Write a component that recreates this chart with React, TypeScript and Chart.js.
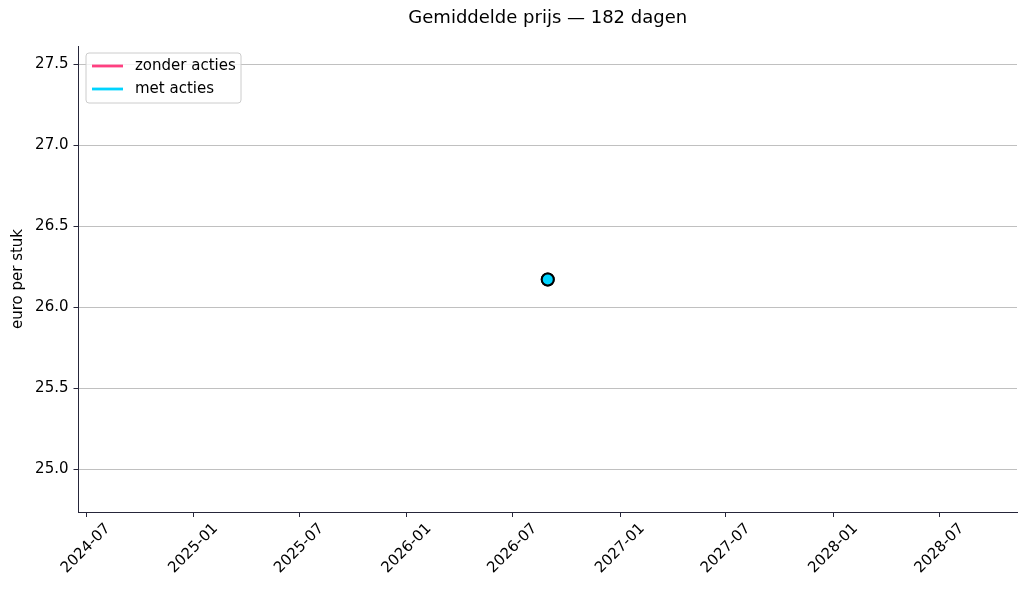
import { useEffect, useRef } from 'react';
import { Chart, registerables } from 'chart.js';

Chart.register(...registerables);

// ---- data ----
const chartTitle = 'Gemiddelde prijs — 182 dagen';
const yAxisLabel = 'euro per stuk';
const seriesNames = ['zonder acties', 'met acties'];
const seriesColors = ['#ff4081', '#00d4ff'];
const pointDates = ['2026-08-30'];
const zonderActies = [26.17];
const metActies = [26.17];
const yTickValues = [25.0, 25.5, 26.0, 26.5, 27.0, 27.5];
const xTickDates = [
  '2024-07-01', '2025-01-01', '2025-07-01', '2026-01-01', '2026-07-01',
  '2027-01-01', '2027-07-01', '2028-01-01', '2028-07-01',
];
const xRangeDates = ['2024-06-18', '2028-11-10'];
const yRange = [24.735, 27.612];

const ts = (d: string) => Date.parse(d + 'T00:00:00Z');
const fmtMonth = (v: number) => {
  const d = new Date(v);
  return d.getUTCFullYear() + '-' + String(d.getUTCMonth() + 1).padStart(2, '0');
};

const SPINE = '#26263a';
const FONT = 'DejaVu Sans';
const TICK_SIZE = 15;

const legendPlugin = {
  id: 'mplLegend',
  afterDraw(chart: any) {
    const { ctx, chartArea } = chart;
    const x = chartArea.left + 7.5;
    const y = chartArea.top + 7;
    const w = 155;
    const h = 50;
    const r = 3;
    ctx.save();
    ctx.beginPath();
    ctx.moveTo(x + r, y);
    ctx.lineTo(x + w - r, y);
    ctx.arcTo(x + w, y, x + w, y + r, r);
    ctx.lineTo(x + w, y + h - r);
    ctx.arcTo(x + w, y + h, x + w - r, y + h, r);
    ctx.lineTo(x + r, y + h);
    ctx.arcTo(x, y + h, x, y + h - r, r);
    ctx.lineTo(x, y + r);
    ctx.arcTo(x, y, x + r, y, r);
    ctx.closePath();
    ctx.fillStyle = 'rgba(255,255,255,0.8)';
    ctx.fill();
    ctx.strokeStyle = '#cccccc';
    ctx.lineWidth = 1;
    ctx.stroke();
    seriesNames.forEach((name, i) => {
      const cy = y + 13 + i * 23;
      ctx.beginPath();
      ctx.moveTo(x + 6, cy);
      ctx.lineTo(x + 37, cy);
      ctx.strokeStyle = seriesColors[i];
      ctx.lineWidth = 2.8;
      ctx.stroke();
      ctx.fillStyle = '#000';
      ctx.font = `${TICK_SIZE}px "${FONT}"`;
      ctx.textBaseline = 'middle';
      ctx.textAlign = 'left';
      ctx.fillText(name, x + 49, cy);
    });
    ctx.restore();
  },
};

export default function App() {
  const ref = useRef<HTMLCanvasElement | null>(null);

  useEffect(() => {
    document.body.style.margin = '0';
    const canvas = ref.current;
    if (!canvas) return;
    const mk = (vals: number[]) => pointDates.map((d, i) => ({ x: ts(d), y: vals[i] }));
    const chart = new Chart(canvas, {
      type: 'line',
      data: {
        datasets: [
          {
            label: seriesNames[0],
            data: mk(zonderActies),
            borderColor: seriesColors[0],
            backgroundColor: seriesColors[0],
            pointBackgroundColor: seriesColors[0],
            pointBorderColor: '#000',
            pointBorderWidth: 2,
            pointRadius: 6,
            borderWidth: 2.5,
            order: 1,
          },
          {
            label: seriesNames[1],
            data: mk(metActies),
            borderColor: seriesColors[1],
            backgroundColor: seriesColors[1],
            pointBackgroundColor: seriesColors[1],
            pointBorderColor: '#000',
            pointBorderWidth: 2,
            pointRadius: 6,
            borderWidth: 2.5,
            order: 0,
          },
        ],
      },
      options: {
        responsive: false,
        animation: false,
        devicePixelRatio: 1,
        layout: { padding: { left: 0, right: 9, top: 0, bottom: 0 } },
        font: { family: FONT },
        plugins: {
          legend: { display: false },
          tooltip: { enabled: false },
          title: {
            display: true,
            text: chartTitle,
            fullSize: false,
            color: '#000',
            font: { family: FONT, size: 18, weight: 'normal' },
            padding: { top: 7.2, bottom: 17.2 },
          },
        },
        scales: {
          x: {
            type: 'linear',
            min: ts(xRangeDates[0]),
            max: ts(xRangeDates[1]),
            afterBuildTicks: (scale: any) => {
              scale.ticks = xTickDates.map((d) => ({ value: ts(d) }));
            },
            afterFit: (scale: any) => {
              scale.height = 78;
              scale.paddingLeft = 0;
              scale.paddingRight = 0;
            },
            ticks: {
              autoSkip: false,
              minRotation: 45,
              maxRotation: 45,
              labelOffset: 22,
              padding: 3,
              color: '#000',
              font: { family: FONT, size: TICK_SIZE },
              callback: (v: any) => fmtMonth(Number(v)),
            },
            grid: {
              drawOnChartArea: false,
              drawTicks: true,
              tickLength: 5,
              tickColor: SPINE,
              tickWidth: 1,
            },
            border: { color: SPINE, width: 1 },
          },
          y: {
            type: 'linear',
            min: yRange[0],
            max: yRange[1],
            afterBuildTicks: (scale: any) => {
              scale.ticks = yTickValues.map((v) => ({ value: v }));
            },
            afterFit: (scale: any) => {
              scale.width = 78.5;
              scale.paddingTop = 0;
              scale.paddingBottom = 0;
            },
            ticks: {
              padding: 5,
              color: '#000',
              font: { family: FONT, size: TICK_SIZE },
              callback: (v: any) => Number(v).toFixed(1),
            },
            grid: {
              color: '#b0b0b0',
              lineWidth: 0.8,
              drawTicks: true,
              tickLength: 5,
              tickColor: SPINE,
              tickWidth: 1,
            },
            border: { color: SPINE, width: 1 },
            title: {
              display: true,
              text: yAxisLabel,
              color: '#000',
              font: { family: FONT, size: TICK_SIZE },
              padding: { top: 9.5, bottom: 0 },
            },
          },
        },
      },
      plugins: [legendPlugin],
    } as any);
    return () => chart.destroy();
  }, []);

  return <canvas ref={ref} width={1026} height={590} style={{ display: 'block' }} />;
}
